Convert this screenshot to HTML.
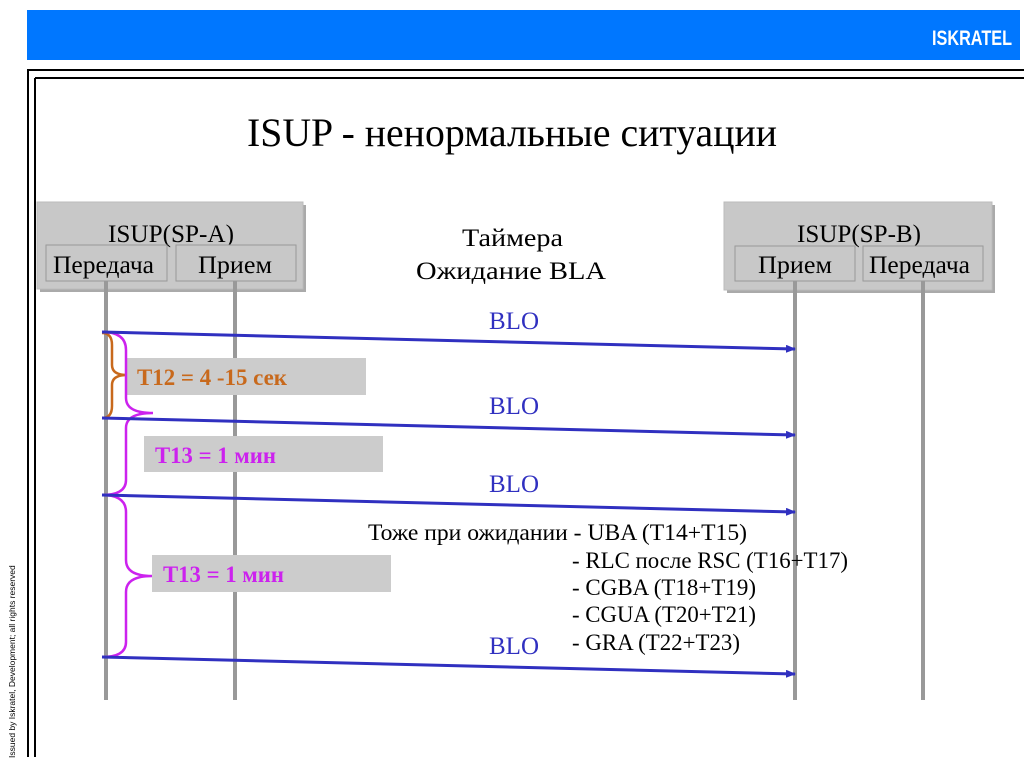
<!DOCTYPE html>
<html><head><meta charset="utf-8"><style>
html,body{margin:0;padding:0;background:#fff;}
svg{display:block;}
</style></head><body>
<svg width="1024" height="767" viewBox="0 0 1024 767" xmlns="http://www.w3.org/2000/svg">
<defs>
<marker id="ah" markerWidth="10" markerHeight="8" refX="9" refY="4" orient="auto" markerUnits="userSpaceOnUse">
<path d="M0,0 L10,4 L0,8 Z" fill="#3030c0"/></marker>
</defs>
<rect x="27" y="10" width="993" height="50" fill="#0077ff"/>
<text x="932" y="45" textLength="80" lengthAdjust="spacingAndGlyphs" font-family="Liberation Sans, sans-serif" font-weight="bold" font-size="21" fill="#fff">ISKRATEL</text>
<line x1="27" y1="70" x2="1024" y2="70" stroke="#000" stroke-width="2"/>
<line x1="35" y1="78" x2="1024" y2="78" stroke="#000" stroke-width="2"/>
<line x1="28" y1="70" x2="28" y2="757" stroke="#000" stroke-width="2"/>
<line x1="35" y1="78" x2="35" y2="757" stroke="#000" stroke-width="2"/>
<text transform="translate(15,758) rotate(-90)" font-family="Liberation Sans, sans-serif" font-size="8.5" fill="#000">Issued by Iskratel, Development; all rights reserved</text>

<text x="247" y="146" textLength="530" lengthAdjust="spacingAndGlyphs" font-family="Liberation Serif, serif" font-size="40">ISUP - ненормальные ситуации</text>

<g font-family="Liberation Serif, serif" font-size="25">
<rect x="40" y="205" width="266" height="87" fill="#aaa"/>
<rect x="37" y="202" width="266" height="87" fill="#c8c8c8" stroke="#bbb"/>
<text x="108" y="242" textLength="126" lengthAdjust="spacingAndGlyphs">ISUP(SP-A)</text>
<rect x="46" y="245" width="121" height="36" fill="#c8c8c8" stroke="#999"/>
<rect x="176" y="245" width="120" height="36" fill="#c8c8c8" stroke="#999"/>
<text x="53" y="273" textLength="101" lengthAdjust="spacingAndGlyphs">Передача</text>
<text x="198" y="273" textLength="74" lengthAdjust="spacingAndGlyphs">Прием</text>

<rect x="727" y="205" width="268" height="88" fill="#aaa"/>
<rect x="724" y="202" width="268" height="88" fill="#c8c8c8" stroke="#bbb"/>
<text x="797" y="242" textLength="124" lengthAdjust="spacingAndGlyphs">ISUP(SP-B)</text>
<rect x="735" y="246" width="120" height="35" fill="#c8c8c8" stroke="#999"/>
<rect x="863" y="246" width="120" height="35" fill="#c8c8c8" stroke="#999"/>
<text x="758" y="273" textLength="74" lengthAdjust="spacingAndGlyphs">Прием</text>
<text x="869" y="273" textLength="101" lengthAdjust="spacingAndGlyphs">Передача</text>

<text x="462" y="246" textLength="101" lengthAdjust="spacingAndGlyphs">Таймера</text>
<text x="416" y="279" textLength="190" lengthAdjust="spacingAndGlyphs">Ожидание BLA</text>
</g>

<g stroke="#999" stroke-width="4">
<line x1="106" y1="281" x2="106" y2="700"/>
<line x1="235" y1="281" x2="235" y2="700"/>
<line x1="795" y1="281" x2="795" y2="700"/>
<line x1="923" y1="281" x2="923" y2="700"/>
</g>

<rect x="127" y="358" width="239" height="37" fill="#cccccc"/>
<text x="137" y="385" textLength="150" lengthAdjust="spacingAndGlyphs" font-family="Liberation Serif, serif" font-weight="bold" font-size="23" fill="#c8691c">T12 = 4 -15 сек</text>
<rect x="144" y="436" width="239" height="36" fill="#cccccc"/>
<text x="155" y="463" textLength="121" lengthAdjust="spacingAndGlyphs" font-family="Liberation Serif, serif" font-weight="bold" font-size="23" fill="#cc22ee">T13 = 1 мин</text>
<rect x="152" y="555" width="239" height="37" fill="#cccccc"/>
<text x="163" y="582" textLength="121" lengthAdjust="spacingAndGlyphs" font-family="Liberation Serif, serif" font-weight="bold" font-size="23" fill="#cc22ee">T13 = 1 мин</text>

<path d="M102,333 Q112,333 112,345 L112,365 Q112,375 127,375 Q112,375 112,385 L112,406 Q112,418 102,418" fill="none" stroke="#c8691c" stroke-width="2.5"/>
<path d="M102,332 Q126,332 126,350 L126,398 Q126,413 153,413 Q126,413 126,428 L126,480 Q126,495 102,495" fill="none" stroke="#cc22ee" stroke-width="2.5"/>
<path d="M102,495 Q126,495 126,512 L126,560 Q126,576 152,576 Q126,576 126,592 L126,642 Q126,657 102,657" fill="none" stroke="#cc22ee" stroke-width="2.5"/>

<g stroke="#3030c0" stroke-width="3" marker-end="url(#ah)">
<line x1="102" y1="332" x2="795" y2="349"/>
<line x1="102" y1="418" x2="795" y2="435"/>
<line x1="102" y1="495" x2="795" y2="512"/>
<line x1="102" y1="657" x2="795" y2="674"/>
</g>
<g font-family="Liberation Serif, serif" font-size="25" fill="#3030c0">
<text x="489" y="329" textLength="50" lengthAdjust="spacingAndGlyphs">BLO</text>
<text x="489" y="414" textLength="50" lengthAdjust="spacingAndGlyphs">BLO</text>
<text x="489" y="492" textLength="50" lengthAdjust="spacingAndGlyphs">BLO</text>
<text x="489" y="654" textLength="50" lengthAdjust="spacingAndGlyphs">BLO</text>
</g>
<g font-family="Liberation Serif, serif" font-size="23" fill="#000">
<text x="368" y="540" textLength="379" lengthAdjust="spacingAndGlyphs">Тоже при ожидании - UBA (T14+T15)</text>
<text x="572" y="568" textLength="276" lengthAdjust="spacingAndGlyphs">- RLC после RSC (T16+T17)</text>
<text x="572" y="595" textLength="184" lengthAdjust="spacingAndGlyphs">- CGBA (T18+T19)</text>
<text x="572" y="622" textLength="184" lengthAdjust="spacingAndGlyphs">- CGUA (T20+T21)</text>
<text x="572" y="650" textLength="168" lengthAdjust="spacingAndGlyphs">- GRA (T22+T23)</text>
</g>
</svg>
</body></html>
